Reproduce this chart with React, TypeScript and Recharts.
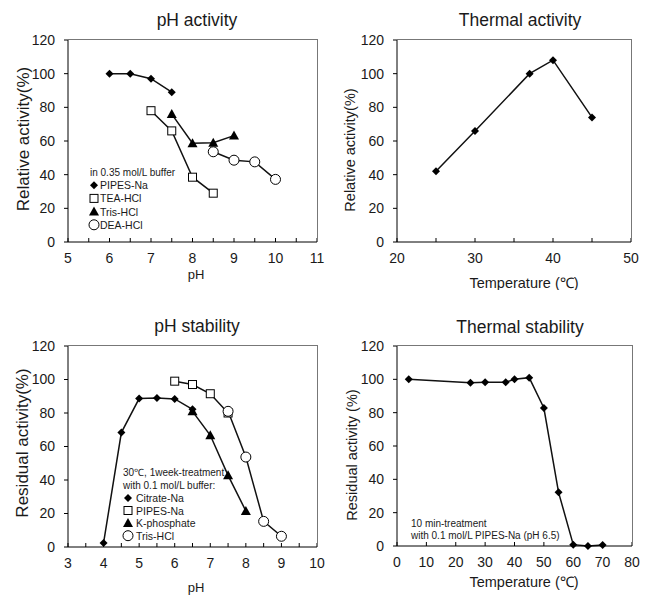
import React from 'react';
import { LineChart, Line, XAxis, YAxis } from 'recharts';

const FONT = '"Liberation Sans", Arial, Helvetica, sans-serif';
const INK = '#1a1a1a';

// pH activity, in 0.35 mol/L buffer
const actPipesPH = [6, 6.5, 7, 7.5];
const actPipesVal = [100, 100, 97, 89];
const actTeaPH = [7, 7.5, 8, 8.5];
const actTeaVal = [78, 66, 38.5, 29];
const actTrisPH = [7.5, 8, 8.5, 9];
const actTrisVal = [76, 58.7, 59, 63.2];
const actDeaPH = [8.5, 9, 9.5, 10];
const actDeaVal = [53.6, 48.6, 47.6, 37.2];

// thermal activity
const actTemp = [25, 30, 37, 40, 45];
const actTempVal = [42, 66, 100, 108, 74];

// pH stability, 30℃ 1 week, 0.1 mol/L buffer
const stCitratePH = [4, 4.5, 5, 5.5, 6, 6.5];
const stCitrateVal = [2.4, 68.3, 88.6, 89, 88.4, 82.2];
const stPipesPH = [6, 6.5, 7, 7.5];
const stPipesVal = [99, 97, 91.5, 80];
const stKphosPH = [6.5, 7, 7.5, 8];
const stKphosVal = [81, 66.7, 42.8, 21.5];
const stTrisPH = [7.5, 8, 8.5, 9];
const stTrisVal = [81, 53.7, 15.3, 6.4];

// thermal stability, 10 min in PIPES-Na pH 6.5
const stTemp = [4, 25, 30, 37, 40, 45, 50, 55, 60, 65, 70];
const stTempVal = [100, 98, 98.3, 98.3, 100, 101, 82.8, 32.2, 0.8, 0, 0.6];

const yMax = 120;
const yTicks = [0, 20, 40, 60, 80, 100, 120];
const phActTicks = [5, 5.5, 6, 6.5, 7, 7.5, 8, 8.5, 9, 9.5, 10, 10.5, 11];
const tempActTicks = [20, 25, 30, 35, 40, 45, 50];
const phStTicks = [3, 3.5, 4, 4.5, 5, 5.5, 6, 6.5, 7, 7.5, 8, 8.5, 9, 9.5, 10];
const tempStTicks = [0, 10, 20, 30, 40, 50, 60, 70, 80];

type Shape = 'diamond' | 'square' | 'triangle' | 'circle';
type Series = { name: string; xs: number[]; ys: number[]; shape: Shape };

const pts = (xs: number[], ys: number[]) => xs.map((x, i) => ({ x, y: ys[i] }));

function Marker({ shape, cx, cy }: { shape: Shape; cx: number; cy: number }) {
  switch (shape) {
    case 'diamond':
      return <path d={`M${cx} ${cy - 4}L${cx + 4} ${cy}L${cx} ${cy + 4}L${cx - 4} ${cy}Z`} fill="#000" />;
    case 'square':
      return <rect x={cx - 4} y={cy - 4} width={8} height={8} fill="#fff" stroke="#000" strokeWidth={1} />;
    case 'triangle':
      return <path d={`M${cx} ${cy - 5}L${cx + 5} ${cy + 4}L${cx - 5} ${cy + 4}Z`} fill="#000" />;
    default:
      return <circle cx={cx} cy={cy} r={5} fill="#fff" stroke="#000" strokeWidth={1} />;
  }
}

interface PanelProps {
  left: number; top: number; width: number; height: number;
  plotTop: number; plotRight: number; yWidth: number; xHeight: number;
  xDomain: [number, number]; xTicks: number[]; labelStep: number;
  series: Series[];
  children?: React.ReactNode;
}

function Panel({ left, top, width, height, plotTop, plotRight, yWidth, xHeight, xDomain, xTicks, labelStep, series, children }: PanelProps) {
  const fmt = (v: number) => (Math.abs(v / labelStep - Math.round(v / labelStep)) < 1e-6 ? String(v) : '');
  const plotBottom = height - xHeight;
  return (
    <div style={{ position: 'absolute', left, top, width, height }}>
      <LineChart width={width} height={height} margin={{ top: plotTop, right: width - plotRight, bottom: 0, left: 0 }}>
        <XAxis dataKey="x" type="number" domain={xDomain} ticks={xTicks} tickFormatter={fmt} height={xHeight}
          stroke="#000" tickSize={-4} tickMargin={15} tick={{ fontSize: 14, fill: INK, fontFamily: FONT }} />
        <YAxis type="number" domain={[0, yMax]} ticks={yTicks} width={yWidth} stroke="#000" tickSize={4} tickMargin={9}
          tick={{ fontSize: 14, fill: INK, fontFamily: FONT }} />
        {series.map((s) => (
          <Line key={s.name} name={s.name} data={pts(s.xs, s.ys)} dataKey="y" stroke="#111" strokeWidth={1.5}
            isAnimationActive={false} legendType="none"
            dot={(p: any) => <g key={`${s.name}-${p.index}`}><Marker shape={s.shape} cx={p.cx} cy={p.cy} /></g>}
            activeDot={false} />
        ))}
      </LineChart>
      <svg width={width} height={height} style={{ position: 'absolute', left: 0, top: 0, pointerEvents: 'none', zIndex: 2 }}
        fontFamily={FONT} fill={INK}>
        {children}
      </svg>
      {/* grey top and right edge of the plot area */}
      <div style={{
        position: 'absolute', zIndex: 3, pointerEvents: 'none', left: yWidth, top: plotTop - 1,
        width: plotRight - yWidth + 1, height: plotBottom - plotTop + 1,
        borderTop: '1px solid #777', borderRight: '1px solid #777', boxSizing: 'border-box',
      }} />
    </div>
  );
}

function Title({ x, y, text }: { x: number; y: number; text: string }) {
  return <text x={x} y={y} fontSize={17.5} textAnchor="middle" dominantBaseline="central">{text}</text>;
}
function XLabel({ x, y, text, size }: { x: number; y: number; text: string; size: number }) {
  return <text x={x} y={y} fontSize={size} textAnchor="middle" dominantBaseline="central">{text}</text>;
}
function YLabel({ x, y, text, size }: { x: number; y: number; text: string; size: number }) {
  return <text transform={`translate(${x},${y}) rotate(-90)`} fontSize={size} textAnchor="middle" dominantBaseline="central">{text}</text>;
}

function LegendBox({ x, markerX, textX, y, step, header, items }: {
  x: number; markerX: number; textX: number; y: number; step: number; header: string[]; items: Series[];
}) {
  return (
    <g fontSize={10}>
      {header.map((h, i) => (
        <text key={h} x={x} y={y + i * step} dominantBaseline="central">{h}</text>
      ))}
      {items.map((s, i) => {
        const cy = y + (header.length + i) * step;
        return (
          <g key={s.name}>
            <Marker shape={s.shape} cx={markerX} cy={cy} />
            <text x={textX} y={cy} fontSize={10.5} dominantBaseline="central">{s.name}</text>
          </g>
        );
      })}
    </g>
  );
}

const phActSeries: Series[] = [
  { name: 'PIPES-Na', xs: actPipesPH, ys: actPipesVal, shape: 'diamond' },
  { name: 'TEA-HCl', xs: actTeaPH, ys: actTeaVal, shape: 'square' },
  { name: 'Tris-HCl', xs: actTrisPH, ys: actTrisVal, shape: 'triangle' },
  { name: 'DEA-HCl', xs: actDeaPH, ys: actDeaVal, shape: 'circle' },
];
const tempActSeries: Series[] = [{ name: 'activity', xs: actTemp, ys: actTempVal, shape: 'diamond' }];
const phStSeries: Series[] = [
  { name: 'Citrate-Na', xs: stCitratePH, ys: stCitrateVal, shape: 'diamond' },
  { name: 'PIPES-Na', xs: stPipesPH, ys: stPipesVal, shape: 'square' },
  { name: 'K-phosphate', xs: stKphosPH, ys: stKphosVal, shape: 'triangle' },
  { name: 'Tris-HCl', xs: stTrisPH, ys: stTrisVal, shape: 'circle' },
];
const tempStSeries: Series[] = [{ name: 'stability', xs: stTemp, ys: stTempVal, shape: 'diamond' }];

export default function App() {
  return (
    <div style={{ position: 'absolute', left: 0, top: 0, width: 650, height: 597, background: '#fff', fontFamily: FONT }}>
      <Panel left={0} top={0} width={325} height={290} plotTop={40} plotRight={317} yWidth={68} xHeight={48}
        xDomain={[5, 11]} xTicks={phActTicks} labelStep={1} series={phActSeries}>
        <Title x={197} y={20} text="pH activity" />
        <XLabel x={196} y={274} text="pH" size={13} />
        <YLabel x={23} y={139} text="Relative activity(%)" size={17} />
        <LegendBox x={90} markerX={94} textX={100} y={172} step={13.2} header={['in 0.35 mol/L buffer']} items={phActSeries} />
      </Panel>
      <Panel left={325} top={0} width={325} height={290} plotTop={40} plotRight={306} yWidth={72} xHeight={48}
        xDomain={[20, 50]} xTicks={tempActTicks} labelStep={10} series={tempActSeries}>
        <Title x={195} y={20} text="Thermal activity" />
        <XLabel x={199} y={283} text="Temperature (℃)" size={14.5} />
        <YLabel x={25} y={150} text="Relative activity(%)" size={14.5} />
      </Panel>
      <Panel left={0} top={290} width={325} height={307} plotTop={56} plotRight={317} yWidth={68} xHeight={50}
        xDomain={[3, 10]} xTicks={phStTicks} labelStep={1} series={phStSeries}>
        <Title x={197} y={36} text="pH stability" />
        <XLabel x={196} y={297} text="pH" size={13} />
        <YLabel x={22} y={153} text="Residual activity(%)" size={17} />
        <LegendBox x={123} markerX={128} textX={136} y={182.7} step={12.6}
          header={['30℃, 1week-treatment', 'with 0.1 mol/L buffer:']} items={phStSeries} />
      </Panel>
      <Panel left={325} top={290} width={325} height={307} plotTop={56} plotRight={307} yWidth={72} xHeight={51}
        xDomain={[0, 80]} xTicks={tempStTicks} labelStep={10} series={tempStSeries}>
        <Title x={195} y={37} text="Thermal stability" />
        <XLabel x={199} y={292} text="Temperature (℃)" size={14.5} />
        <YLabel x={27} y={165} text="Residual activity (%)" size={14.5} />
        <g fontSize={10}>
          <text x={86} y={233.3} dominantBaseline="central">10 min-treatment</text>
          <text x={86} y={245} dominantBaseline="central">with 0.1 mol/L PIPES-Na (pH 6.5)</text>
        </g>
      </Panel>
    </div>
  );
}
